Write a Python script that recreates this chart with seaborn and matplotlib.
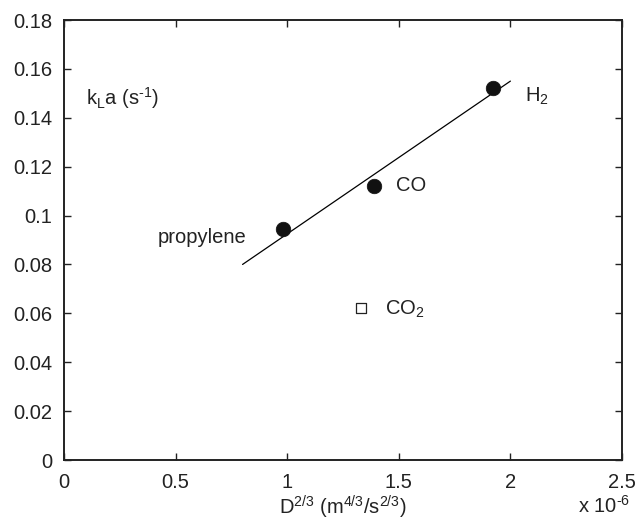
import matplotlib
matplotlib.use("Agg")
import matplotlib.pyplot as plt
import seaborn as sns
import pandas as pd

# Measured volumetric mass-transfer coefficients vs. diffusivity^(2/3)
gases = ["propylene", "CO", "H$_2$"]
d23 = [0.982, 1.389, 1.921]          # x 1e-6 m^(4/3)/s^(2/3)
kla = [0.0944, 0.1122, 0.1523]       # 1/s

co2_label = "CO$_2$"
co2_d23 = [1.331]
co2_kla = [0.0623]

# Linear correlation through the hydrocarbon/H2/CO data
fit_x = [0.80, 2.00]
fit_y = [0.080, 0.155]

sns.set_theme(style="ticks")
plt.rcParams["font.family"] = ["Liberation Sans", "DejaVu Sans"]
plt.rcParams["mathtext.fontset"] = "custom"
plt.rcParams["mathtext.rm"] = "Liberation Sans"
plt.rcParams["mathtext.it"] = "Liberation Sans"
plt.rcParams["mathtext.default"] = "regular"

FS = 14.5
INK = "#222222"

fig = plt.figure(figsize=(6.38, 5.23), dpi=100)
ax = fig.add_axes([64 / 638, 1 - 460 / 523, 558 / 638, 440 / 523])

pts = pd.DataFrame({"gas": gases, "x": d23, "y": kla})
co2 = pd.DataFrame({"x": co2_d23, "y": co2_kla})
fit = pd.DataFrame({"x": fit_x, "y": fit_y})

sns.lineplot(data=fit, x="x", y="y", ax=ax, color="black", linewidth=0.9)
sns.scatterplot(data=pts, x="x", y="y", ax=ax, color="#111111", s=110,
                marker="o", edgecolor="#111111", linewidth=0.5, zorder=3)
sns.scatterplot(data=co2, x="x", y="y", ax=ax, marker="s", s=50,
                facecolor="white", edgecolor=INK, linewidth=0.9, zorder=3)

ax.set_xlim(0, 2.5)
ax.set_ylim(0, 0.18)
ax.set_xticks([0, 0.5, 1, 1.5, 2, 2.5])
ax.set_xticklabels(["0", "0.5", "1", "1.5", "2", "2.5"])
ax.set_yticks([0, 0.02, 0.04, 0.06, 0.08, 0.1, 0.12, 0.14, 0.16, 0.18])
ax.set_yticklabels(["0", "0.02", "0.04", "0.06", "0.08", "0.1", "0.12",
                    "0.14", "0.16", "0.18"])
ax.tick_params(direction="in", length=5, width=1, top=True, right=True,
               labelsize=FS, colors=INK)
ax.tick_params(axis="y", pad=8.5)
ax.tick_params(axis="x", pad=9)
for sp in ax.spines.values():
    sp.set_linewidth(1.4)
    sp.set_color(INK)

ax.set_xlabel("D$^{2/3}$ (m$^{4/3}$/s$^{2/3}$)", fontsize=FS, color=INK,
              labelpad=2)
ax.set_ylabel("")
ax.text(604 / 638, 1 - 513 / 523, "x 10$^{\\text{-}6}$", transform=fig.transFigure,
        fontsize=FS, color=INK, ha="center", va="baseline")

# Point annotations
txt = dict(fontsize=FS, color=INK, va="center")
ax.text(d23[0] - 0.165, kla[0] - 0.0035, gases[0], ha="right", **txt)
ax.text(d23[1] + 0.10, kla[1], gases[1], ha="left", **txt)
ax.text(d23[2] + 0.145, kla[2] - 0.0035, gases[2], ha="left", **txt)
ax.text(co2_d23[0] + 0.105, co2_kla[0] - 0.0005, co2_label, ha="left", **txt)
ax.text(0.10, 0.148, "k$_L$a (s$^{\\text{-}1}$)", ha="left", **txt)

fig.savefig("out.png", dpi=100)
